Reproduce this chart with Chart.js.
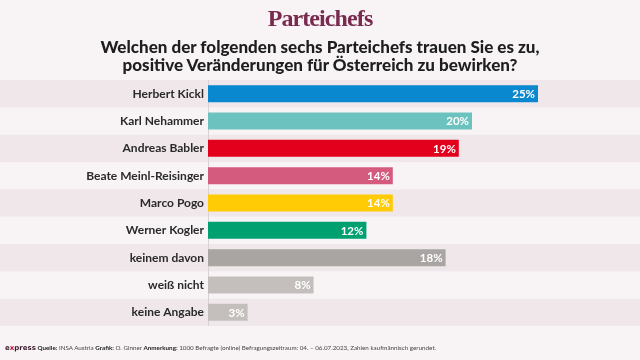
<!DOCTYPE html>
<html>
<head>
<meta charset="utf-8">
<script src="https://cdn.jsdelivr.net/npm/chart.js@4"></script>
<style>
  html,body{margin:0;padding:0;background:#f8f4f6;}
  #wrap{position:relative;width:640px;height:360px;overflow:hidden;background:#f8f4f6;}
  canvas{position:absolute;left:0;top:0;}
  .title{position:absolute;left:0;width:640px;top:5px;text-align:center;font-family:"Liberation Serif",serif;font-weight:bold;font-size:24px;color:#7a2a4e;letter-spacing:-0.9px;}
  .sub{position:absolute;left:0;width:640px;top:38px;text-align:center;font-family:Lato,sans-serif;font-weight:900;font-size:17px;line-height:18px;color:#1e1e1e;}
  .foot{position:absolute;left:5px;top:344px;font-family:Lato,sans-serif;font-size:6.25px;color:#444;white-space:nowrap;}
  .foot b{font-weight:bold;color:#222;}
  .logo{font-family:"DejaVu Sans",sans-serif;font-weight:bold;font-size:7px;color:#3a1a2a;}
  .logo span{color:#c0103a;}
</style>
</head>
<body>
<div id="wrap">
  <canvas id="c" width="640" height="360"></canvas>
  <div class="title">Parteichefs</div>
  <div class="sub">Welchen der folgenden sechs Parteichefs trauen Sie es zu,<br>positive Veränderungen für Österreich zu bewirken?</div>
  <div class="foot"><span class="logo">e<span>x</span>press</span> <b>Quelle:</b> INSA Austria <b>Grafik:</b> O. Ginner <b>Anmerkung:</b> 1000 Befragte (online) Befragungszeitraum: 04. – 06.07.2023, Zahlen kaufmännisch gerundet.</div>
</div>
<script>
const categories = ["Herbert Kickl","Karl Nehammer","Andreas Babler","Beate Meinl-Reisinger","Marco Pogo","Werner Kogler","keinem davon","weiß nicht","keine Angabe"];
const values = [25,20,19,14,14,12,18,8,3];
const barColors = ["#0a88cf","#6cc2be","#e2001d","#d45b7e","#ffcb05","#00a070","#a9a5a3","#c4bfbd","#c4bfbd"];

const bandPlugin = {
  id:'bands',
  beforeDraw(chart){
    const {ctx, scales:{y}, chartArea} = chart;
    ctx.save();
    ctx.fillStyle = '#f8f4f6';
    ctx.fillRect(0,0,chart.width,chart.height);
    const step = (chartArea.bottom - chartArea.top)/categories.length;
    categories.forEach((c,i)=>{
      if(i%2===0){
        const yc = y.getPixelForValue(i);
        ctx.fillStyle = '#f0e7ea';
        ctx.fillRect(0, yc-step/2, chart.width, step);
      }
    });
    ctx.strokeStyle = '#d9d1d4';
    ctx.lineWidth = 1;
    ctx.beginPath();
    ctx.moveTo(chartArea.left+0.5, chartArea.top);
    ctx.lineTo(chartArea.left+0.5, chartArea.bottom);
    ctx.stroke();
    ctx.restore();
  }
};
const labelPlugin = {
  id:'vlabels',
  afterDatasetsDraw(chart){
    const {ctx} = chart;
    const meta = chart.getDatasetMeta(0);
    ctx.save();
    ctx.font = 'bold 11.5px Lato';
    ctx.fillStyle = '#ffffff';
    ctx.textAlign = 'right';
    ctx.textBaseline = 'middle';
    meta.data.forEach((bar,i)=>{
      ctx.fillText(values[i]+'%', bar.x-3, bar.y+0.5);
    });
    ctx.restore();
  }
};

new Chart(document.getElementById('c'),{
  type:'bar',
  data:{labels:categories,datasets:[{data:values,backgroundColor:barColors,borderWidth:0,barPercentage:0.62,categoryPercentage:1}]},
  options:{
    indexAxis:'y',
    responsive:false,
    animation:false,
    layout:{padding:{top:80,bottom:34,left:0,right:36}},
    plugins:{legend:{display:false},tooltip:{enabled:false}},
    scales:{
      x:{display:false,min:0,max:30},
      y:{
        afterFit(s){s.width=208;},
        grid:{display:false,drawTicks:false},
        border:{display:false},
        ticks:{font:{family:'Lato',weight:'bold',size:12},color:'#2a2a2a',padding:4}
      }
    }
  },
  plugins:[bandPlugin,labelPlugin]
});
</script>
</body>
</html>
